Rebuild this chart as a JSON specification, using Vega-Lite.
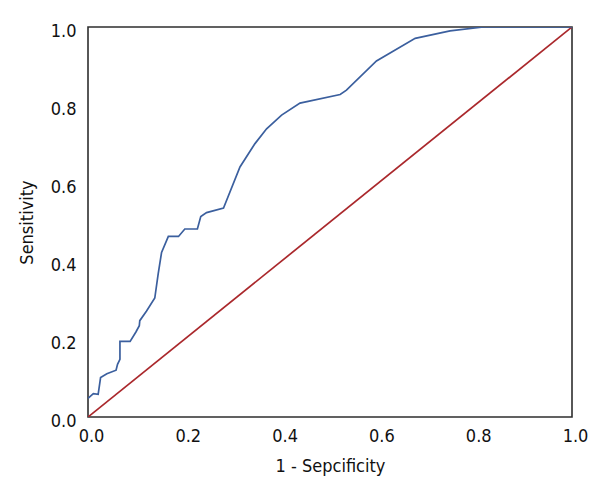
{
  "$schema": "https://vega.github.io/schema/vega-lite/v6.json",
  "width": 484,
  "height": 390,
  "autosize": "none",
  "padding": {"left": 88, "top": 27, "right": 28, "bottom": 83},
  "background": "white",
  "config": {
    "view": {"stroke": "#2e2e2e", "strokeWidth": 1.6},
    "font": "Liberation Sans Narrow, DejaVu Sans Condensed, sans-serif",
    "axis": {
      "grid": false,
      "domain": false,
      "ticks": false,
      "labelFont": "Liberation Sans Narrow, DejaVu Sans Condensed, sans-serif",
      "titleFont": "Liberation Sans Narrow, DejaVu Sans Condensed, sans-serif",
      "labelFontSize": 18,
      "titleFontSize": 18,
      "labelColor": "#111111",
      "titleColor": "#111111",
      "titleFontWeight": "normal"
    }
  },
  "datasets": {
    "roc": [
      {"fpr": 0.0, "tpr": 0.048},
      {"fpr": 0.011, "tpr": 0.06},
      {"fpr": 0.021, "tpr": 0.058},
      {"fpr": 0.026, "tpr": 0.101},
      {"fpr": 0.039, "tpr": 0.111},
      {"fpr": 0.058, "tpr": 0.12},
      {"fpr": 0.061, "tpr": 0.135},
      {"fpr": 0.066, "tpr": 0.148},
      {"fpr": 0.066, "tpr": 0.194},
      {"fpr": 0.087, "tpr": 0.194},
      {"fpr": 0.099, "tpr": 0.218},
      {"fpr": 0.106, "tpr": 0.234},
      {"fpr": 0.107, "tpr": 0.247},
      {"fpr": 0.121, "tpr": 0.272},
      {"fpr": 0.138, "tpr": 0.305},
      {"fpr": 0.145, "tpr": 0.367},
      {"fpr": 0.152, "tpr": 0.422},
      {"fpr": 0.166, "tpr": 0.463},
      {"fpr": 0.187, "tpr": 0.463},
      {"fpr": 0.2, "tpr": 0.482},
      {"fpr": 0.226, "tpr": 0.482},
      {"fpr": 0.233, "tpr": 0.514},
      {"fpr": 0.245, "tpr": 0.524},
      {"fpr": 0.28, "tpr": 0.536},
      {"fpr": 0.314, "tpr": 0.641},
      {"fpr": 0.345, "tpr": 0.701},
      {"fpr": 0.369, "tpr": 0.739},
      {"fpr": 0.4, "tpr": 0.774},
      {"fpr": 0.438, "tpr": 0.805},
      {"fpr": 0.521, "tpr": 0.827},
      {"fpr": 0.534, "tpr": 0.838},
      {"fpr": 0.596, "tpr": 0.913},
      {"fpr": 0.676, "tpr": 0.971},
      {"fpr": 0.748, "tpr": 0.99},
      {"fpr": 0.817, "tpr": 1.0},
      {"fpr": 1.0, "tpr": 1.0}
    ],
    "diag": [
      {"fpr": 0.0, "tpr": 0.0},
      {"fpr": 1.0, "tpr": 1.0}
    ]
  },
  "encoding": {
    "x": {
      "field": "fpr", "type": "quantitative",
      "scale": {"domain": [0, 1], "nice": false, "zero": false},
      "axis": {"values": [0, 0.2, 0.4, 0.6, 0.8, 1.0], "format": ".1f", "labelPadding": 10, "labelOffset": 3, "titlePadding": 12, "labelFlush": false},
      "title": "1 - Sepcificity"
    },
    "y": {
      "field": "tpr", "type": "quantitative",
      "scale": {"domain": [0, 1], "nice": false, "zero": false},
      "axis": {"values": [0, 0.2, 0.4, 0.6, 0.8, 1.0], "format": ".1f", "labelPadding": 12, "labelOffset": 4, "titlePadding": 14, "labelFlush": false},
      "title": "Sensitivity"
    }
  },
  "layer": [
    {
      "data": {"name": "diag"},
      "mark": {"type": "line", "color": "#aa282c", "strokeWidth": 1.7, "clip": true}
    },
    {
      "data": {"name": "roc"},
      "mark": {"type": "line", "color": "#3b5f9e", "strokeWidth": 1.7, "clip": true}
    }
  ]
}
